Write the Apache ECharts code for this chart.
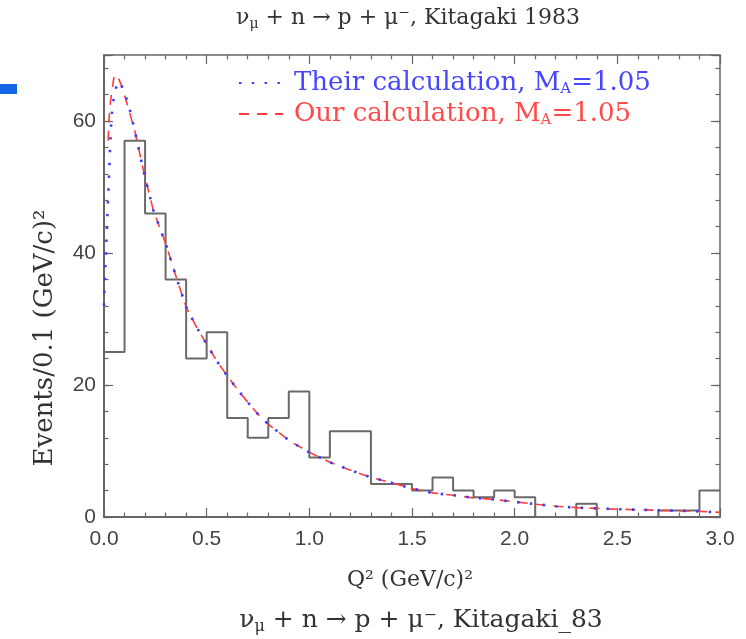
<!DOCTYPE html>
<html><head><meta charset="utf-8">
<script src="https://cdn.jsdelivr.net/npm/echarts@6/dist/echarts.min.js"></script>
<style>html,body{margin:0;padding:0;background:#fff}#c{width:746px;height:639px}</style>
</head><body><div id="c"></div>
<script>
// Histogram: bin left edges (width 0.1) and event counts
const binLeft = [0.0,0.1,0.2,0.3,0.4,0.5,0.6,0.7,0.8,0.9,1.0,1.1,1.2,1.3,1.4,1.5,1.6,1.7,1.8,1.9,2.0,2.1,2.2,2.3,2.4,2.5,2.6,2.7,2.8,2.9];
const binWidth = 0.1;
const counts = [25,57,46,36,24,28,15,12,15,19,9,13,13,5,5,4,6,4,3,4,3,0,0,2,0,0,0,1,1,4];

// "Their calculation" curve (blue dotted)
const theirX = [0.0,0.005,0.013,0.021,0.026,0.031,0.036,0.045,0.058,0.073,0.094,0.122,0.151,0.191,0.24,0.305,0.35,0.40,0.45,0.50,0.55,0.60,0.65,0.70,0.76,0.81,0.91,1.0,1.1,1.2,1.3,1.4,1.5,1.6,1.7,1.8,1.9,2.0,2.1,2.2,2.3,2.4,2.5,2.6,2.7,2.8,2.9,3.0];
const theirY = [32,37,43,49,53,57,60.5,63,65,66,64.8,62.2,58.4,52.6,46.5,41,36.5,31.8,28.8,26.2,23.6,21.4,19.3,17.4,15.2,13.8,11.4,9.8,8.3,7.1,6.0,5.2,4.3,3.65,3.3,2.9,2.65,2.3,1.95,1.62,1.42,1.3,1.18,1.1,1.02,0.95,0.85,0.7];

// "Our calculation" curve (red dashed)
const ourX = [0.02,0.025,0.03,0.037,0.045,0.052,0.058,0.07,0.09,0.12,0.15,0.19,0.24,0.305,0.35,0.40,0.45,0.50,0.55,0.60,0.65,0.70,0.76,0.81,0.91,1.0,1.1,1.2,1.3,1.4,1.5,1.6,1.7,1.8,1.9,2.0,2.1,2.2,2.3,2.4,2.5,2.6,2.7,2.8,2.9,3.0];
const ourY = [57,60.5,62.5,64.2,66,67,67.3,66.5,65,61.8,58.5,52.8,46.5,41,36.5,31.8,28.8,26.2,23.6,21.4,19.3,17.4,15.2,13.8,11.4,9.8,8.3,7.1,6.0,5.2,4.3,3.65,3.3,2.9,2.65,2.3,1.95,1.62,1.42,1.3,1.18,1.1,1.02,0.95,0.85,0.7];

const xMin = 0, xMax = 3, xStep = 0.5;
const yMin = 0, yMax = 70, yStep = 20, yMinorStep = 4;

const serif = '"DejaVu Serif", "Liberation Serif", serif';
const sans = '"Liberation Sans", "DejaVu Sans", sans-serif';

const histData = binLeft.map((x, i) => [x, counts[i]]);
histData.push([binLeft[binLeft.length - 1] + binWidth, counts[counts.length - 1]]);
const theirData = theirX.map((x, i) => [x, theirY[i]]);
const ourData = ourX.map((x, i) => [x, ourY[i]]);

const chart = echarts.init(document.getElementById('c'), null, {renderer: 'canvas'});

const axisCol = '#666';
function xAx(pos, labels) {
  return {
    type: 'value', position: pos, min: xMin, max: xMax, interval: xStep,
    axisLine: {show: true, onZero: false, lineStyle: {color: axisCol, width: pos === 'bottom' ? 2 : 1.5}},
    axisTick: {show: true, inside: true, length: 9, lineStyle: {color: axisCol, width: 1.2}},
    minorTick: {show: true, splitNumber: 5, length: 4.5, lineStyle: {color: axisCol, width: 1.2}},
    axisLabel: {show: labels, margin: 12, color: '#444', fontSize: 21, fontFamily: sans, formatter: v => v.toFixed(1)},
    splitLine: {show: false}
  };
}
function yAx(pos, step, len, labels, line) {
  return {
    type: 'value', position: pos, min: yMin, max: yMax, interval: step,
    axisLine: {show: line, onZero: false, lineStyle: {color: axisCol, width: pos === 'left' ? 2 : 1.5}},
    axisTick: {show: true, inside: true, length: len, lineStyle: {color: axisCol, width: 1.2}},
    axisLabel: {show: labels, margin: 8, color: '#444', fontSize: 21, fontFamily: sans,
      formatter: v => (v % yStep === 0 ? String(v) : '')},
    splitLine: {show: false}
  };
}

const legendRich = {
  g: {width: 6},
  n: {fontSize: 26, fontFamily: serif},
  s: {fontSize: 15, fontFamily: serif, padding: [13, 0, 0, 0]}
};
const subRich = (size, sub) => ({
  a: {fontSize: size, fontFamily: serif, fill: '#333'},
  s: {fontSize: sub, fontFamily: serif, fill: '#333', padding: [Math.round(sub * 0.85), 0, 0, 0]}
});

chart.setOption({
  animation: false,
  backgroundColor: '#fff',
  grid: {left: 104, right: 26, top: 55, bottom: 122, containLabel: false},
  xAxis: [xAx('bottom', true), xAx('top', false)],
  yAxis: [
    yAx('left', yStep, 9, true, true),
    yAx('left', yMinorStep, 4.5, false, false),
    yAx('right', yStep, 9, false, true),
    yAx('right', yMinorStep, 4.5, false, false)
  ],
  legend: {
    orient: 'vertical', left: 233, top: 63, itemWidth: 44, itemHeight: 14, itemGap: 1,
    selectedMode: false,
    itemStyle: {color: 'rgba(0,0,0,0)', borderWidth: 0, opacity: 0},
    data: [
      {name: 'their', textStyle: {color: '#4646ff'}},
      {name: 'our', textStyle: {color: '#ff4a4a'}}
    ],
    formatter: name => name === 'their'
      ? '{g|}{n|Their calculation, M}{s|A}{n|=1.05}'
      : '{g|}{n|Our calculation, M}{s|A}{n|=1.05}',
    textStyle: {fontFamily: serif, fontSize: 26, lineHeight: 30, rich: legendRich}
  },
  series: [
    {
      name: 'hist', type: 'line', step: 'end', data: histData, xAxisIndex: 0, yAxisIndex: 0,
      symbol: 'none', lineStyle: {color: '#6a6a6a', width: 2}, z: 2
    },
    {
      name: 'our', type: 'line', data: ourData, xAxisIndex: 0, yAxisIndex: 0,
      symbol: 'none', itemStyle: {color: '#ff3c3c'},
      lineStyle: {color: '#ff3c3c', width: 1.6, type: [10, 8]}, z: 3
    },
    {
      name: 'their', type: 'line', data: theirData, xAxisIndex: 0, yAxisIndex: 0,
      symbol: 'none', itemStyle: {color: '#3a3aff'},
      lineStyle: {color: '#3a3aff', width: 2.6, type: [2.4, 10.4]}, z: 4
    }
  ],
  graphic: [
    {type: 'rect', left: 0, top: 84, shape: {width: 17, height: 10}, style: {fill: '#1464e6'}},
    {type: 'text', x: 408, y: 18, style: {
      text: '{a|ν}{s|μ}{a| + n → p + μ⁻, Kitagaki 1983}',
      align: 'center', verticalAlign: 'middle', fill: '#333', rich: subRich(22, 14)
    }},
    {type: 'text', x: 410, y: 580, style: {
      text: 'Q² (GeV/c)²', align: 'center', verticalAlign: 'middle', fill: '#333',
      font: '22px ' + serif
    }},
    {type: 'text', x: 421, y: 620, style: {
      text: '{a|ν}{s|μ}{a| + n → p + μ⁻, Kitagaki_83}',
      align: 'center', verticalAlign: 'middle', fill: '#333', rich: subRich(25, 16)
    }},
    {type: 'text', x: 45, y: 338, rotation: Math.PI / 2, style: {
      text: 'Events/0.1 (GeV/c)²', align: 'center', verticalAlign: 'middle', fill: '#333',
      font: '26px ' + serif
    }}
  ]
});
</script>
</body></html>
